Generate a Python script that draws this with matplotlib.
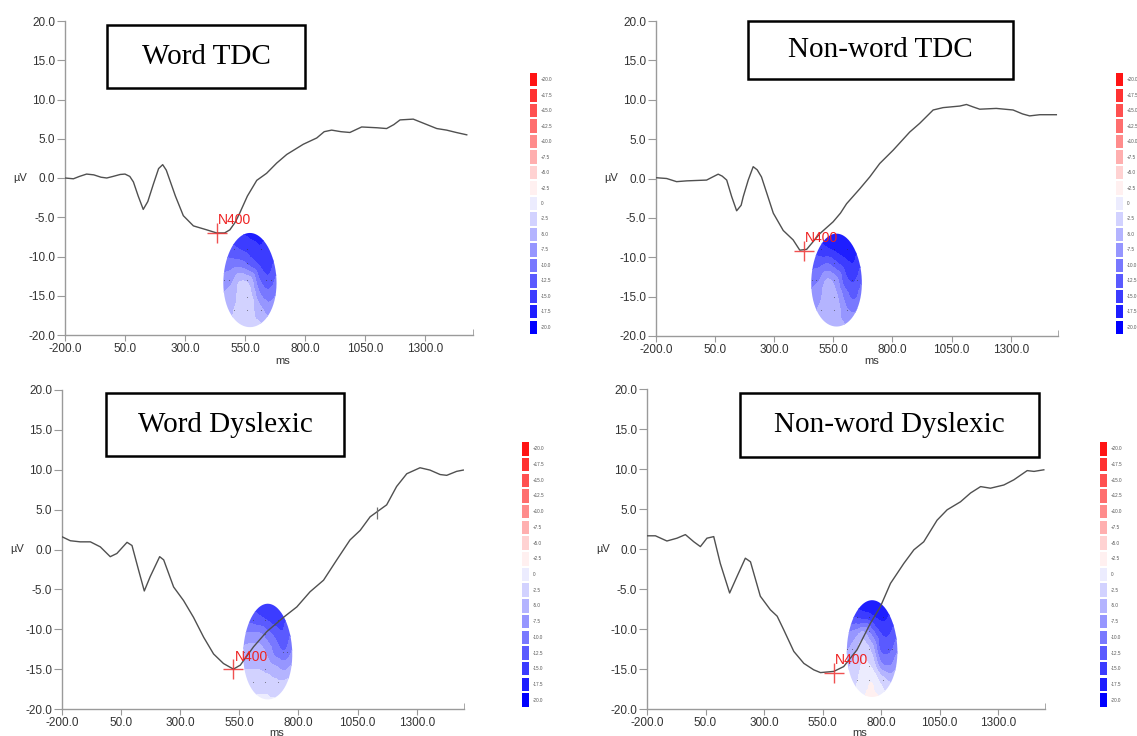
import numpy as np
import matplotlib
matplotlib.use("Agg")
import matplotlib.pyplot as plt
from matplotlib.colors import ListedColormap, BoundaryNorm
from matplotlib.patches import Rectangle, PathPatch
from matplotlib.path import Path
import matplotlib.tri as mtri

# ---------------- data ----------------
titles = ["Word TDC", "Non-word TDC", "Word Dyslexic", "Non-word Dyslexic"]

word_tdc_ms = [-200, -165, -140, -110, -80, -50, -26, 0, 30, 50, 70, 85, 105, 126, 145, 168, 190, 207, 222, 237,
               260, 293, 335, 390, 432, 465, 487, 510, 529, 560, 599, 640, 682, 724, 793, 849, 880, 911, 950, 987,
               1036, 1100, 1140, 1170, 1196, 1251, 1300, 1349, 1390, 1430, 1474]
word_tdc_uv = [0.0, -0.1, 0.2, 0.5, 0.4, 0.1, 0.0, 0.2, 0.45, 0.5, 0.2, -0.5, -2.3, -4.0, -3.0, -0.8, 1.2, 1.7, 1.0, -0.3,
               -2.3, -4.8, -6.1, -6.6, -7.0, -7.0, -6.6, -5.6, -4.4, -2.3, -0.3, 0.6, 1.9, 3.0, 4.3, 5.1, 5.9, 6.1, 5.9, 5.8,
               6.5, 6.4, 6.3, 6.8, 7.4, 7.5, 6.9, 6.3, 6.1, 5.8, 5.5]

nonword_tdc_ms = [-200, -155, -113, -70, 14, 40, 63, 80, 99, 120, 141, 160, 169, 190, 211, 228, 246, 270, 296, 338,
                  380, 408, 437, 465, 493, 549, 580, 606, 662, 704, 746, 803, 873, 915, 972, 1014, 1085, 1113, 1140,
                  1169, 1239, 1310, 1350, 1380, 1423, 1493]
nonword_tdc_uv = [0.1, 0.0, -0.4, -0.3, -0.2, 0.2, 0.55, 0.3, -0.2, -2.3, -4.1, -3.4, -2.3, -0.2, 1.5, 1.1, 0.2, -2.0, -4.4, -6.6,
                  -7.8, -9.1, -9.0, -8.0, -7.0, -5.5, -4.4, -3.2, -1.3, 0.2, 1.9, 3.6, 5.9, 7.0, 8.7, 9.0, 9.2, 9.4, 9.1,
                  8.8, 8.9, 8.7, 8.2, 7.95, 8.1, 8.1]

word_dys_ms = [-200, -165, -123, -80, -38, 4, 32, 75, 96, 124, 148, 173, 213, 230, 272, 314, 356, 399, 441, 483,
               525, 554, 610, 666, 737, 793, 849, 906, 962, 1018, 1061, 1103, 1131, 1173, 1215, 1258, 1314, 1356,
               1399, 1427, 1469, 1497]
word_dys_uv = [1.6, 1.1, 0.96, 0.96, 0.33, -0.9, -0.5, 0.9, 0.5, -2.6, -5.2, -3.4, -0.9, -1.3, -4.7, -6.4, -8.5, -11.0, -13.1, -14.3,
               -15.0, -14.5, -12.2, -10.3, -8.5, -7.2, -5.3, -3.85, -1.3, 1.2, 2.4, 4.1, 4.7, 5.6, 7.9, 9.5, 10.25, 9.96,
               9.4, 9.3, 9.8, 9.96]

nonword_dys_ms = [-200, -164, -115, -72, -36, 0, 28, 56, 85, 113, 153, 185, 220, 242, 284, 327, 356, 384, 427, 470,
                  512, 541, 598, 640, 697, 754, 797, 840, 897, 940, 982, 1039, 1082, 1139, 1182, 1225, 1267, 1324,
                  1367, 1424, 1453, 1495]
nonword_dys_uv = [1.65, 1.65, 1.0, 1.35, 1.8, 0.9, 0.3, 1.35, 1.55, -1.8, -5.5, -3.4, -1.15, -1.6, -5.9, -7.6, -8.4, -10.1, -12.8, -14.3,
                  -15.1, -15.45, -15.3, -14.7, -12.6, -9.3, -7.2, -4.3, -1.8, -0.1, 0.9, 3.6, 4.9, 5.9, 7.0, 7.8, 7.6, 8.0,
                  8.65, 9.8, 9.7, 9.9]

# N400 peak markers (ms, uV)
n400_ms = [432, 425, 525, 598]
n400_uv = [-7.0, -9.2, -15.0, -15.5]

# extra small cursor mark on the Word Dyslexic curve
cursor_ms = [1131]
cursor_uv = [4.6]

# scalp-map level grids (rows: front->back, cols: left->right), in uV
map_word_tdc = [[-14, -15, -16, -17, -17, -16, -14],
                [-12, -13, -14, -15, -16, -15, -13],
                [-10, -10, -10, -12, -14, -15, -12],
                [-8, -7, -4, -5, -11, -13, -10],
                [-6, -5, -3, -3, -8, -10, -8],
                [-5, -4, -3, -3, -5, -7, -6],
                [-5, -4, -3, -3, -3, -5, -5]]
map_nonword_tdc = [[-16, -17, -18, -18, -18, -17, -16],
                   [-14, -15, -16, -17, -18, -17, -15],
                   [-12, -12, -11, -13, -15, -16, -13],
                   [-10, -9, -6, -8, -13, -14, -11],
                   [-8, -7, -5, -6, -10, -12, -9],
                   [-7, -6, -5, -5, -8, -9, -7],
                   [-7, -6, -5, -5, -6, -7, -7]]
map_word_dys = [[-13, -14, -15, -16, -16, -15, -13],
                [-11, -12, -13, -14, -15, -14, -12],
                [-8, -8, -8, -10, -12, -13, -10],
                [-6, -5, -5, -7, -10, -11, -8],
                [-4, -4, -4, -5, -6, -7, -5],
                [-2, -2, -2, -2, -3, -3, -2],
                [-1, -1, -1, -1, -1, -1, -1]]
map_nonword_dys = [[-16, -17, -18, -18, -18, -17, -15],
                   [-13, -14, -15, -16, -17, -16, -13],
                   [-9, -8, -6, -10, -14, -14, -11],
                   [-7, -5, -2, -5, -12, -12, -9],
                   [-5, -3, -1, -2, -8, -9, -6],
                   [-3, -2, 0, 1, -2, -4, -3],
                   [-3, -1, 1, 2, 1, -2, -3]]

# colour scale
scale_values = [-20.0, -17.5, -15.0, -12.5, -10.0, -7.5, -5.0, -2.5, 0.0,
                2.5, 5.0, 7.5, 10.0, 12.5, 15.0, 17.5, 20.0]
scale_labels = ["-20.0", "-17.5", "-15.0", "-12.5", "-10.0", "-7.5", "-5.0", "-2.5", "0",
                "+2.5", "+5.0", "+7.5", "+10.0", "+12.5", "+15.0", "+17.5", "+20.0"]
scale_colors = ["#0000ff", "#1e1eff", "#3c3cff", "#5a5aff", "#7878ff", "#9696ff", "#b4b4ff", "#d2d2ff", "#ececfe",
                "#fff0f0", "#ffd2d2", "#ffafaf", "#ff8c8c", "#ff6e6e", "#ff5050", "#ff3232", "#ff1414"]

xticks = [-200, 50, 300, 550, 800, 1050, 1300]
xticklabels = ["-200.0", "50.0", "300.0", "550.0", "800.0", "1050.0", "1300.0"]
yticks = [-20, -15, -10, -5, 0, 5, 10, 15, 20]
yticklabels = ["-20.0", "-15.0", "-10.0", "-5.0", "0.0", "5.0", "10.0", "15.0", "20.0"]

# electrode dot positions (normalised within the scalp-map box)
elec_x = [0.21, 0.45, 0.70, 0.45, 0.03, 0.12, 0.45, 0.79, 0.88, 0.45, 0.21, 0.45, 0.70]
elec_y = [0.83, 0.83, 0.83, 0.68, 0.50, 0.50, 0.50, 0.50, 0.50, 0.32, 0.18, 0.18, 0.18]

# ---------------- layout ----------------
W, H = 1137, 736
fig = plt.figure(figsize=(W / 100, H / 100), dpi=100)
fig.patch.set_facecolor("white")

def fr(x0, y0, x1, y1):
    return [x0 / W, 1 - y1 / H, (x1 - x0) / W, (y1 - y0) / H]

panels = [
    dict(ax=fr(65, 21, 473, 335), ms=word_tdc_ms, uv=word_tdc_uv, grid=map_word_tdc,
         head=(454, 687, -19.0, -7.0), cbar=fr(530, 72, 537, 335), box=(107, 25, 305, 88),
         uvlab=(20, 178), mslab=(283, 361)),
    dict(ax=fr(656, 21, 1058, 336), ms=nonword_tdc_ms, uv=nonword_tdc_uv, grid=map_nonword_tdc,
         head=(451, 676, -18.8, -7.0), cbar=fr(1116, 72, 1123, 335), box=(748, 21, 1013, 79),
         uvlab=(611, 178), mslab=(872, 361)),
    dict(ax=fr(62, 390, 464, 709), ms=word_dys_ms, uv=word_dys_uv, grid=map_word_dys,
         head=(561, 779, -18.8, -6.8), cbar=fr(522, 441, 529, 708), box=(106, 393, 344, 456),
         uvlab=(17, 549), mslab=(277, 733)),
    dict(ax=fr(647, 389, 1045, 709), ms=nonword_dys_ms, uv=nonword_dys_uv, grid=map_nonword_dys,
         head=(648, 875, -18.5, -6.4), cbar=fr(1100, 441, 1107, 708), box=(740, 393, 1039, 457),
         uvlab=(603, 549), mslab=(860, 733)),
]

cmap = ListedColormap(scale_colors)
bounds = [v - 1.25 for v in scale_values] + [scale_values[-1] + 1.25]
norm = BoundaryNorm(bounds, cmap.N)

tick_font = dict(family="Liberation Sans", size=8.5, color="#333333")

for i, p in enumerate(panels):
    ax = fig.add_axes(p["ax"])
    ax.set_xlim(-200, 1500)
    ax.set_ylim(-20, 20)
    for s in ["top", "right"]:
        ax.spines[s].set_visible(False)
    for s in ["left", "bottom"]:
        ax.spines[s].set_color("#9a9a9a")
        ax.spines[s].set_linewidth(1.0)
    ax.set_xticks(xticks)
    ax.set_xticklabels(xticklabels, fontdict=tick_font)
    ax.set_yticks(yticks)
    ax.set_yticklabels(yticklabels, fontdict=tick_font)
    ax.set_xticks([1500], minor=True)
    ax.tick_params(axis="x", which="major", length=4, color="#9a9a9a", pad=2)
    ax.tick_params(axis="y", which="major", length=6, color="#9a9a9a", pad=1)
    ax.tick_params(axis="x", which="minor", length=4, direction="in", color="#9a9a9a")
    ax.patch.set_alpha(0)

    # scalp map: interpolate in a unit square, then place in data coordinates
    x0, x1, y0, y1 = p["head"]
    g = np.array(p["grid"], dtype=float)
    nr, nc = g.shape
    ux = np.linspace(0, 1, nc)
    uy = np.linspace(1, 0, nr)
    UX, UY = np.meshgrid(ux, uy)
    utri = mtri.Triangulation(UX.ravel(), UY.ravel())
    interp = mtri.CubicTriInterpolator(utri, g.ravel(), kind="geom")
    refiner = mtri.UniformTriRefiner(utri)
    rtri, rz = refiner.refine_field(g.ravel(), subdiv=4, triinterpolator=interp)
    dtri = mtri.Triangulation(x0 + rtri.x * (x1 - x0), y0 + rtri.y * (y1 - y0), rtri.triangles)
    cs = ax.tricontourf(dtri, np.clip(rz, -21.2, 21.2), levels=bounds, cmap=cmap, norm=norm, zorder=2)
    cx, cy = (x0 + x1) / 2, (y0 + y1) / 2
    a, b = (x1 - x0) / 2, (y1 - y0) / 2
    t = np.linspace(0, 2 * np.pi, 200)
    ex = cx + a * np.sin(t) * (0.95 - 0.06 * np.cos(t))
    ey = cy + b * np.cos(t)
    egg = PathPatch(Path(np.column_stack([ex, ey])), transform=ax.transData, facecolor="none", edgecolor="none")
    cs.set_clip_path(egg)
    ax.scatter([x0 + (x1 - x0) * e for e in elec_x], [y0 + (y1 - y0) * e for e in elec_y],
               s=0.6, color="#333333", alpha=0.6, zorder=3, linewidths=0)

    # ERP curve
    ax.plot(p["ms"], p["uv"], color="#505050", lw=1.0, zorder=4, solid_joinstyle="round")

    # N400 marker
    ax.plot([n400_ms[i]], [n400_uv[i]], marker="+", ms=14, mew=1.0, color="#ee3333", alpha=0.85, zorder=5)
    ax.annotate("N400", (n400_ms[i], n400_uv[i]), xytext=(1, 4), textcoords="offset points",
                color="#ee2222", fontsize=10, family="Liberation Sans", zorder=6, va="bottom", ha="left")
    if i == 2:
        ax.plot(cursor_ms, cursor_uv, marker="|", ms=9, mew=0.9, color="#707070", zorder=5)

    # axis labels
    fig.text(p["uvlab"][0] / W, 1 - p["uvlab"][1] / H, "µV", ha="center", va="center",
             fontsize=8, family="Liberation Sans", color="#333333")
    fig.text(p["mslab"][0] / W, 1 - p["mslab"][1] / H, "ms", ha="center", va="center",
             fontsize=8, family="Liberation Sans", color="#333333")

    # colour bar
    cax = fig.add_axes(p["cbar"])
    cax.barh(range(len(scale_values)), 1, height=0.86, color=scale_colors, left=0)
    cax.set_ylim(-0.5, len(scale_values) - 0.5)
    cax.set_xlim(0, 1)
    cax.axis("off")
    for k, lab in enumerate(scale_labels):
        cax.text(1.5, k, lab, fontsize=3.3, color="#555555", va="center", ha="left",
                 family="Liberation Sans", clip_on=False)

    # title box
    bx0, by0, bx1, by1 = p["box"]
    fig.add_artist(Rectangle((bx0 / W, 1 - by1 / H), (bx1 - bx0) / W, (by1 - by0) / H,
                             transform=fig.transFigure, fill=False, lw=1.8, ec="black"))
    fig.text((bx0 + bx1) / 2 / W, 1 - (by0 + by1) / 2 / H, titles[i], ha="center", va="center",
             fontsize=21, family="Liberation Serif", color="black")

fig.savefig("out.png", dpi=100, facecolor="white")
